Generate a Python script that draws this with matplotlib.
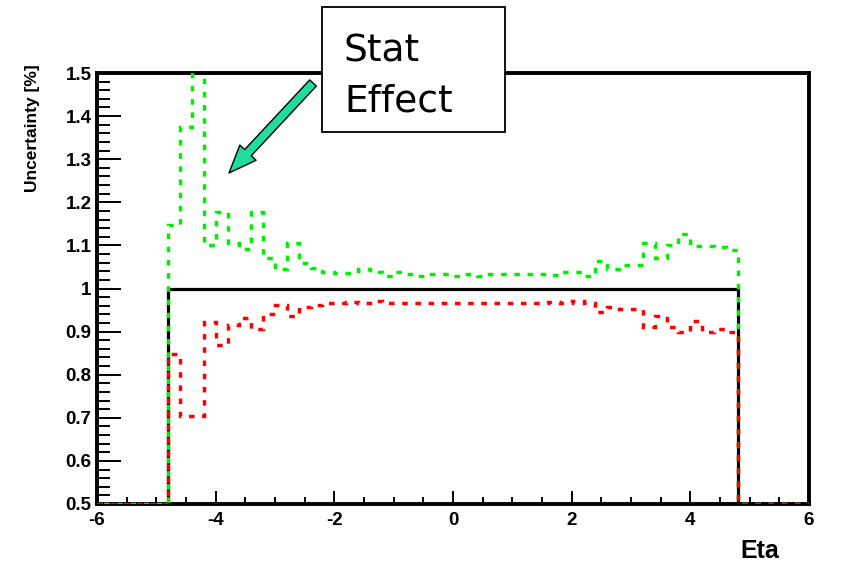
import numpy as np
import matplotlib
matplotlib.use("Agg")
import matplotlib.pyplot as plt
from matplotlib.ticker import MultipleLocator, FuncFormatter
from matplotlib.patches import Rectangle, FancyArrowPatch

# histogram binning: 0.2 wide bins from -6 to 6, filled only for |eta| < 4.8
eta_edges = np.round(np.arange(-6.0, 6.0001, 0.2), 1)
n_empty = 6  # empty bins on each side

# nominal (black), upper stat variation (green), lower stat variation (red)
nominal = [1.0] * 48
stat_up = [1.147, 1.375, 1.55, 1.101, 1.178, 1.105, 1.092, 1.178, 1.070, 1.045,
           1.105, 1.060, 1.048, 1.038, 1.036, 1.036, 1.045, 1.038, 1.029, 1.038,
           1.034, 1.029, 1.034, 1.034, 1.029, 1.034, 1.029, 1.034, 1.034, 1.034,
           1.034, 1.034, 1.032, 1.038, 1.038, 1.029, 1.064, 1.045, 1.055, 1.055,
           1.105, 1.071, 1.101, 1.127, 1.099, 1.099, 1.096, 1.090]
stat_down = [0.848, 0.705, 0.705, 0.922, 0.869, 0.915, 0.932, 0.905, 0.941, 0.962,
             0.936, 0.957, 0.962, 0.966, 0.966, 0.969, 0.967, 0.972, 0.967, 0.967,
             0.967, 0.967, 0.967, 0.967, 0.967, 0.967, 0.967, 0.967, 0.967, 0.967,
             0.967, 0.967, 0.969, 0.967, 0.972, 0.967, 0.946, 0.957, 0.952, 0.952,
             0.910, 0.936, 0.910, 0.900, 0.925, 0.900, 0.905, 0.900]

y_min, y_max = 0.5, 1.5

W, H = 859, 563
fig = plt.figure(figsize=(W / 100, H / 100), dpi=100)
ax = fig.add_axes([97 / W, 1 - 504 / H, (809 - 97) / W, (504 - 73) / H])


def full_hist(vals):
    v = np.concatenate([np.zeros(n_empty), vals, np.zeros(n_empty)])
    # like ROOT, anything below the frame minimum is drawn on the frame
    return np.maximum(v, y_min)


ax.stairs(full_hist(nominal), eta_edges, baseline=None, color="black", lw=2.3, zorder=3)
ax.stairs(full_hist(stat_up), eta_edges, baseline=None, color="#00ee00", lw=2.5,
          linestyle=(1.9, (1.6, 2.2)), zorder=4)
ax.stairs(full_hist(stat_down), eta_edges, baseline=None, color="#ff0000", lw=2.5,
          linestyle=(0, (1.6, 2.2)), zorder=5)

ax.set_xlim(-6, 6)
ax.set_ylim(y_min, y_max)

# ROOT-like frame and ticks
for s in ax.spines.values():
    s.set_linewidth(2.8)
ax.xaxis.set_major_locator(MultipleLocator(2))
ax.xaxis.set_minor_locator(MultipleLocator(0.5))
ax.yaxis.set_major_locator(MultipleLocator(0.1))
ax.yaxis.set_minor_locator(MultipleLocator(0.02))
fmt = FuncFormatter(lambda v, p: "%g" % round(v, 3))
ax.xaxis.set_major_formatter(fmt)
ax.yaxis.set_major_formatter(fmt)
ax.tick_params(axis="y", which="major", direction="in", length=17, width=1.4, pad=4,
               labelsize=13.5, left=True, right=False)
ax.tick_params(axis="y", which="minor", direction="in", length=9.5, width=1.4,
               left=True, right=False)
ax.tick_params(axis="x", which="major", direction="in", length=9.5, width=1.4, pad=6,
               labelsize=13.5, bottom=True, top=False)
ax.tick_params(axis="x", which="minor", direction="in", length=4.8, width=1.4,
               bottom=True, top=False)
for lab in ax.get_xticklabels() + ax.get_yticklabels():
    lab.set_fontweight("bold")
    lab.set_family("Liberation Sans")

ax.set_ylabel("Uncertainty [%]", loc="top", fontsize=12.5, fontweight="bold",
              family="Liberation Sans")
ax.yaxis.set_label_coords(-0.08, 1.02)
fig.text(779 / W, 1 - 558 / H, "Eta", ha="right", va="baseline", fontsize=18,
         fontweight="bold", family="Liberation Sans")

# annotation box with arrow
box = Rectangle((322 / W, 1 - 132 / H), (505 - 322) / W, (132 - 7) / H,
                transform=fig.transFigure, fc="white", ec="black", lw=1.3, zorder=5)
fig.patches.append(box)
fig.text(344 / W, 1 - 62 / H, "Stat", fontsize=27, va="baseline", family="DejaVu Sans", zorder=6)
fig.text(344 / W, 1 - 112 / H, "Effect", fontsize=27, va="baseline", family="DejaVu Sans", zorder=6)

arrow = FancyArrowPatch((313 / W, 1 - 83 / H), (229 / W, 1 - 173 / H),
                        transform=fig.transFigure,
                        arrowstyle="simple,head_length=2.0,head_width=1.6,tail_width=0.65",
                        mutation_scale=10, fc="#20dca0", ec="black", lw=1.0,
                        shrinkA=0, shrinkB=0, zorder=6)
fig.patches.append(arrow)

fig.savefig("out.png", dpi=100)
